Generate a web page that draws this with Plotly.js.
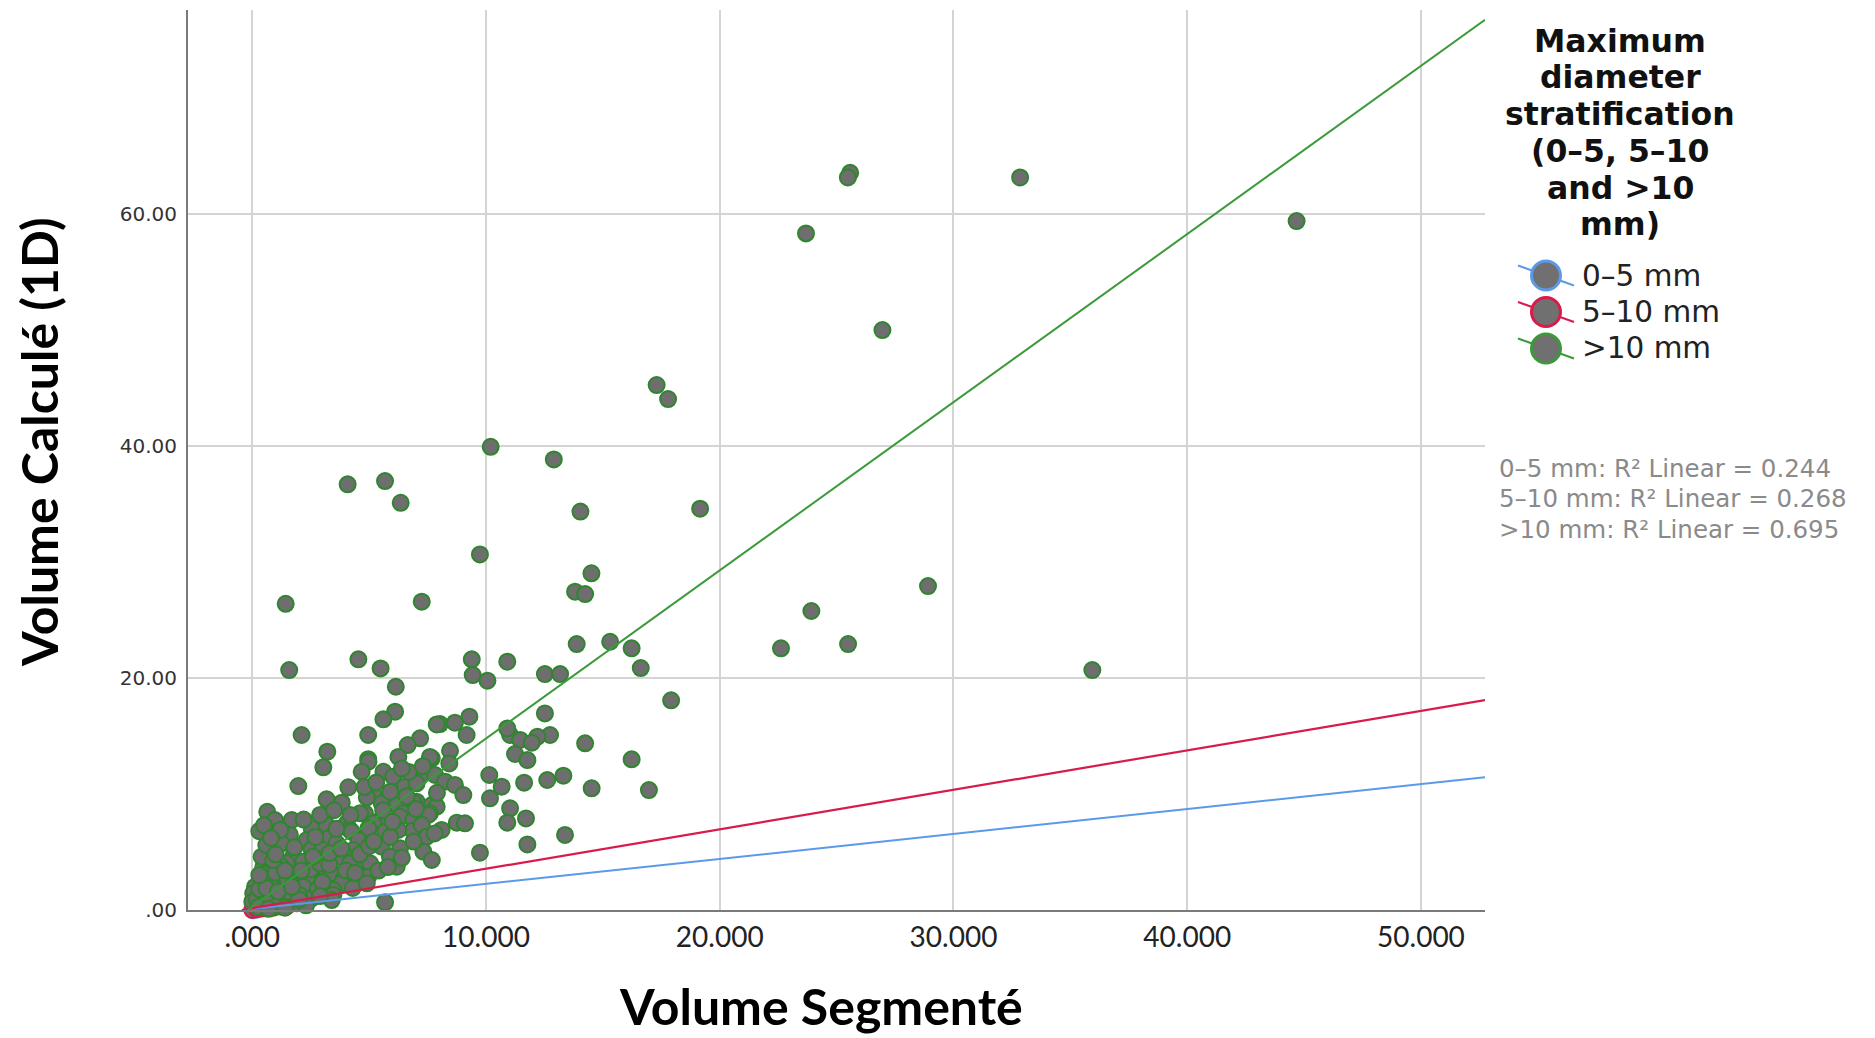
<!DOCTYPE html>
<html>
<head>
<meta charset="utf-8">
<script src="https://cdn.plot.ly/plotly-3.0.1.min.js"></script>
<style>html,body{margin:0;padding:0;background:#fff;}#chart{width:1875px;height:1038px;}</style>
</head>
<body>
<div id="chart"></div>
<script>
// ---------- DATA ----------
const groupNames = ["0\u20135 mm", "5\u201310 mm", ">10 mm"];
const r2Labels = ["0\u20135 mm: R\u00b2 Linear = 0.244", "5\u201310 mm: R\u00b2 Linear = 0.268", ">10 mm: R\u00b2 Linear = 0.695"];
const legendTitleLines = ["Maximum", "diameter", "stratification", "(0\u20135, 5\u201310", "and >10", "mm)"];

const xTickVals = [0, 10, 20, 30, 40, 50];
const xTickText = [".000", "10.000", "20.000", "30.000", "40.000", "50.000"];
const yTickVals = [0, 20, 40, 60];
const yTickText = [".00", "20.00", "40.00", "60.00"];

// 0-5 mm group (tiny volumes, hidden near origin)
const blueX = [0.01, 0.03, 0.05, 0.08, 0.10, 0.15, 0.20];
const blueY = [0.01, 0.02, 0.01, 0.03, 0.02, 0.04, 0.05];
// 5-10 mm group
const redX = [0.00, 0.20, 0.40, 0.60, 0.90, 1.20, 1.50];
const redY = [0.00, 0.08, 0.12, 0.15, 0.20, 0.30, 0.35];
// >10 mm group
const greenX = [25.58,25.48,32.85,23.69,44.68,26.96,17.30,17.79,10.2,12.9,4.08,5.68,6.35,14.04,19.16,9.74,14.51,13.81,14.24,28.91,
  7.25,1.43,23.92,15.31,13.88,25.49,22.62,16.23,35.94,1.58,4.54,5.49,9.39,10.91,16.62,9.43,10.06,12.52,13.17,6.14,
  17.92,6.11,12.52,5.61,9.29,8.03,8.67,7.89,2.11,4.96,7.18,6.65,9.17,11.03,10.91,12.74,12.2,11.46,11.96,14.24,
  11.24,11.77,16.23,8.46,8.43,7.68,3.21,4.96,6.25,7.6,3.04,4.97,5.61,4.68,7.18,6.03,7.82,8.25,8.67,10.14,
  10.67,11.63,12.62,13.31,14.52,16.97,1.97,4.11,5.18,6.53,7.03,9.03,10.17,3.18,3.83,5.54,4.9,7.03,7.68,6.18,
  6.89,7.89,7.6,11.03,11.71,10.91,8.75,9.1,8.1,13.38,11.77,9.74,0.64,0.97,1.69,4.82,6.46,7.53,4.61,6.32,
  6.89,5.54,5.18,4.04,2.54,3.18,4.18,4.97,5.68,6.86,7.25,6.25,7.46,4.25,1.61,1.26,2.33,3.4,4.54,3.25,
  3.61,5.54,6.32,7.32,7.68,2.54,4.32,3.9,1.75,2.76,3.75,5.89,4.47,5.04,4.18,2.18,1.47,6.18,0.47,1.19,
  2.33,3.18,3.4,3.89,4.47,4.96,4.11,3.83,2.61,1.9,1.19,0.47,1.33,2.18,3.47,0.12,0.76,0.04,0.47,0.9,
  1.61,2.54,3.47,3.4,0.05,0.0,5.68,0.33,1.19,1.9,0.2,0.6,1.0,0.3,0.8,1.5,2.0,0.5,1.0,2.8,
  3.0,2.5,1.6,2.9,0.25,0.7,1.4,2.3,
  0.4,0.6,0.3,0.5,0.9,1.0,1.2,0.8,1.8,1.5,1.4,2.2,2.1,2.0,2.9,3.0,2.6,2.9,2.7,3.5,
  3.6,3.3,3.3,4.0,4.2,3.8,4.3,4.6,5.0,4.8,4.4,4.9,5.2,5.9,5.6,5.9,5.3,5.4,5.8,6.0,
  6.6,6.7,6.4,6.9,6.4,7.3,7.9,7.0,7.8,0.6,1.1,0.3,1.7];
const greenY = [63.56,63.16,63.16,58.34,59.4,50.0,45.26,44.05,39.94,38.85,36.7,36.98,35.11,34.35,34.6,30.66,29.03,27.45,27.24,27.93,
  26.58,26.4,25.78,23.13,22.93,22.93,22.56,22.56,20.69,20.69,21.61,20.83,21.61,21.41,20.86,20.26,19.77,20.34,20.34,19.25,
  18.08,17.1,16.95,16.44,16.67,16.03,16.15,16.0,15.09,15.09,14.8,14.22,15.09,15.09,15.66,15.09,14.94,14.66,14.42,14.37,
  13.45,12.93,12.99,13.73,12.64,13.08,13.65,13.0,13.2,13.2,12.3,12.79,11.92,11.92,11.49,11.49,11.64,11.06,10.78,11.64,
  10.63,10.98,11.21,11.58,10.49,10.34,10.69,10.58,10.06,10.63,10.92,9.91,9.63,9.54,9.25,9.2,9.72,9.34,9.05,9.05,
  9.25,8.91,8.34,8.77,7.9,7.53,7.53,7.47,6.9,6.47,5.65,4.94,8.47,7.76,7.76,8.34,8.34,8.19,8.34,8.04,
  7.76,7.9,7.47,7.47,7.04,7.33,6.9,7.04,6.75,6.84,7.33,6.9,6.32,6.75,6.47,5.75,6.03,6.03,6.03,6.18,
  5.75,5.46,5.32,5.03,4.31,5.23,5.17,4.89,4.6,4.31,4.6,4.6,3.88,4.03,4.03,4.17,4.03,3.73,3.68,3.88,
  2.87,3.45,3.16,2.59,2.59,2.87,2.59,2.3,2.59,2.3,2.59,2.44,2.16,2.01,1.72,2.01,1.72,1.44,1.29,1.15,
  1.15,1.01,1.29,0.86,0.58,0.72,0.66,0.43,0.52,0.58,0.9,0.7,0.3,1.8,2.6,1.6,1.3,3.1,3.2,1.8,
  2.4,3.5,3.0,4.0,0.25,0.1,0.2,0.4,
  4.6,5.6,6.8,7.3,4.3,4.8,6.9,6.2,5.4,2.6,3.4,7.8,3.4,0.9,8.2,5.2,4.6,1.2,6.3,8.6,
  7.0,3.9,4.9,3.4,8.2,5.3,1.9,4.8,5.5,10.6,3.2,2.3,5.9,6.3,8.6,10.2,11.0,3.4,3.7,7.6,
  9.8,11.9,12.2,5.9,4.5,12.4,10.1,8.7,6.6,1.9,1.6,3.0,2.0];

// Fit lines (end points)
const fitBlueX = [-0.45, 52.74], fitBlueY = [0, 11.45];
const fitRedX = [-0.44, 52.74], fitRedY = [0, 18.1];
const fitGreenX = [-0.2, 52.74], fitGreenY = [0, 76.75];

// ---------- STYLE ----------
const BLUE = "#5b9ae8", RED = "#d81b4a", GREEN = "#3a9a3a", MARKER_EDGE = "#2e862e", GRAYFILL = "#6e6e6e";
const PL = 188, PR = 1485, PT = 10, PB = 910;
const px2x = px => (px - PL) / (PR - PL);
const py2y = py => (PB - py) / (PB - PT);

function pts(x, y, edge) {
  return {x: x, y: y, type: "scatter", mode: "markers", cliponaxis: false, hoverinfo: "skip",
    marker: {size: 16, color: GRAYFILL, line: {color: edge, width: 2}}, showlegend: false};
}
function fit(x, y, c, w) {
  return {x: x, y: y, type: "scatter", mode: "lines", hoverinfo: "skip", line: {color: c, width: w}, showlegend: false};
}

const traces = [
  pts(blueX, blueY, BLUE),
  pts(redX, redY, RED),
  pts(greenX, greenY, MARKER_EDGE),
  fit(fitBlueX, fitBlueY, BLUE, 2),
  fit(fitRedX, fitRedY, RED, 2.2),
  fit(fitGreenX, fitGreenY, GREEN, 2)
];

const annotations = [];
// axis titles
annotations.push({text: "Volume Segmenté", xref: "paper", yref: "paper", x: px2x(821), y: py2y(1006),
  xanchor: "center", yanchor: "middle", showarrow: false, font: {family: "Lato, sans-serif", size: 50, weight: 700, color: "#000"}});
annotations.push({text: "Volume Calculé (1D)", xref: "paper", yref: "paper", x: px2x(39), y: py2y(442), textangle: -90,
  xanchor: "center", yanchor: "middle", showarrow: false, font: {family: "Lato, sans-serif", size: 50, weight: 700, color: "#000"}});
// legend title
const titleYs = [40.7, 76.5, 113.6, 150.7, 187.7, 223.6];
legendTitleLines.forEach((t, i) => annotations.push({text: t, xref: "paper", yref: "paper", x: px2x(1620), y: py2y(titleYs[i]),
  xanchor: "center", yanchor: "middle", showarrow: false, font: {family: "DejaVu Sans, sans-serif", size: 31.5, weight: 700, color: "#111"}}));
// legend entries
const entryYs = [275.5, 312, 348.5];
const entryColors = [BLUE, RED, GREEN];
groupNames.forEach((t, i) => annotations.push({text: t, xref: "paper", yref: "paper", x: px2x(1580), y: py2y(entryYs[i]),
  xanchor: "left", yanchor: "middle", showarrow: false, font: {family: "DejaVu Sans, sans-serif", size: 29.5, color: "#222"}}));
// R2 text
const r2Ys = [468, 498.5, 529];
r2Labels.forEach((t, i) => annotations.push({text: t, xref: "paper", yref: "paper", x: px2x(1497), y: py2y(r2Ys[i]),
  xanchor: "left", yanchor: "middle", showarrow: false, font: {family: "DejaVu Sans, sans-serif", size: 24.5, color: "#8a8a8a"}}));

const shapes = [];
entryYs.forEach((py, i) => {
  shapes.push({type: "line", xref: "paper", yref: "paper", xsizemode: "pixel", ysizemode: "pixel",
    xanchor: px2x(1546), yanchor: py2y(py), x0: -28, x1: 28, y0: 10, y1: -10, line: {color: entryColors[i], width: 2}});
  shapes.push({type: "circle", xref: "paper", yref: "paper", xsizemode: "pixel", ysizemode: "pixel",
    xanchor: px2x(1546), yanchor: py2y(py), x0: -14.5, x1: 14.5, y0: -14.5, y1: 14.5,
    fillcolor: "#707070", line: {color: entryColors[i], width: 3}});
});

const layout = {
  width: 1875, height: 1038,
  margin: {l: PL, r: 1875 - PR, t: PT, b: 1038 - PB, pad: 0},
  paper_bgcolor: "#fff", plot_bgcolor: "#fff",
  showlegend: false, hovermode: false,
  xaxis: {range: [-2.75, 52.74], tickvals: xTickVals, ticktext: xTickText, showgrid: true, gridcolor: "#d4d4d4", gridwidth: 2,
    zeroline: false, showline: true, linecolor: "#7a7a7a", linewidth: 2, ticks: "", ticklabelstandoff: 1,
    tickfont: {family: "Lato, sans-serif", size: 28, color: "#222"}, fixedrange: true},
  yaxis: {range: [0, 77.6], tickvals: yTickVals, ticktext: yTickText, showgrid: true, gridcolor: "#d4d4d4", gridwidth: 2,
    zeroline: false, showline: true, linecolor: "#7a7a7a", linewidth: 2, ticks: "", ticklabelstandoff: 5,
    tickfont: {family: "DejaVu Sans, sans-serif", size: 20, color: "#333"}, fixedrange: true},
  annotations: annotations,
  shapes: shapes
};

Plotly.newPlot("chart", traces, layout, {staticPlot: true, displayModeBar: false});
</script>
</body>
</html>
